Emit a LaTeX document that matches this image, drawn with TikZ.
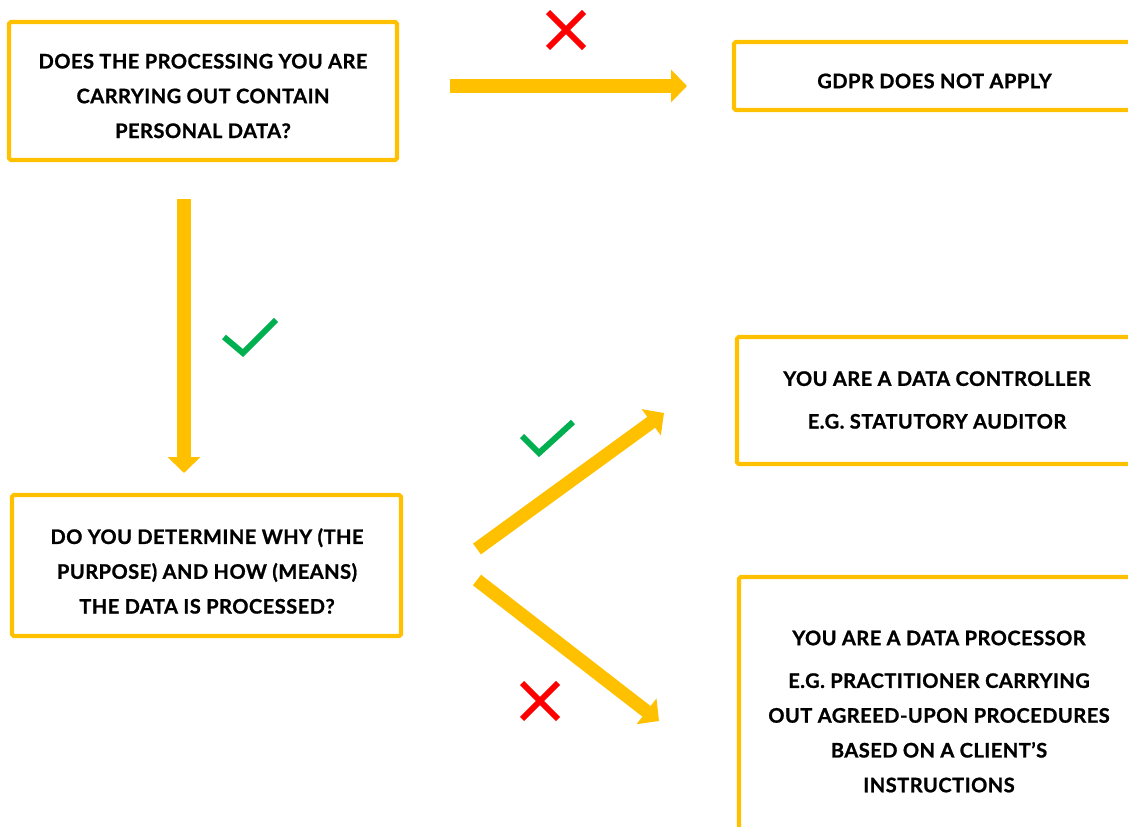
\documentclass[tikz,border=0pt]{standalone}
\usepackage{fontspec}
\setmainfont{Lato}[BoldFeatures={FakeBold=1,LetterSpace=2.5}]
\usetikzlibrary{arrows.meta}
\definecolor{gold}{HTML}{FFC000}
\definecolor{xred}{HTML}{FF0000}
\definecolor{okgreen}{HTML}{00B050}
\tikzset{
  box/.style={draw=gold, line width=2.3pt, rounded corners=1pt, fill=white, inner sep=0pt},
  label/.style={align=center, font=\fontsize{11.4}{19.8}\selectfont\bfseries, inner sep=0pt},
  flow/.style={draw=gold, line width=7.6pt, -{Triangle[length=9pt,width=18pt]}},
  crossmark/.style={draw=xred, line width=3.4pt},
  tickmark/.style={draw=okgreen, line width=3.4pt},
}
\begin{document}
\begin{tikzpicture}[x=0.02cm,y=-0.02cm]
\useasboundingbox (0,0) rectangle (1128,827);
\clip (0,0) rectangle (1128,827);
\fill[white] (0,0) rectangle (1128,827);
% boxes
\node[box, minimum width=388*0.02cm, minimum height=138*0.02cm] (q1) at (203,91) {};
\node[label] (q1t) at (203,96)
  {DOES THE PROCESSING YOU ARE\\CARRYING OUT CONTAIN\\PERSONAL DATA?};
\node[box, minimum width=406*0.02cm, minimum height=68*0.02cm] (gdpr) at (937,76) {};
\node[label] (gdprt) at (934.5,81) {GDPR DOES NOT APPLY};
\node[box, minimum width=403*0.02cm, minimum height=127*0.02cm] (ctrl) at (938.5,400.5) {};
\node[label] (ctrlt) at (937,400)
  {YOU ARE A DATA CONTROLLER\\[4.5pt]E.G. STATUTORY AUDITOR};
\node[box, minimum width=401*0.02cm, minimum height=273*0.02cm] (proc) at (939.5,713.5) {};
\node[label] (proct) at (939,711.5)
  {YOU ARE A DATA PROCESSOR\\[4.5pt]E.G. PRACTITIONER CARRYING\\OUT AGREED-UPON PROCEDURES\\BASED ON A CLIENT’S\\INSTRUCTIONS};
\node[box, minimum width=389*0.02cm, minimum height=141*0.02cm] (q2) at (206.5,565.5) {};
\node[label] (q2t) at (207,571)
  {DO YOU DETERMINE WHY (THE\\PURPOSE) AND HOW (MEANS)\\THE DATA IS PROCESSED?};
% connector ends
\coordinate (a1s) at (450,86);
\coordinate (a1e) at (687,86);
\coordinate (a2s) at (184,199);
\coordinate (a2e) at (184,473);
\coordinate (a3s) at (477,549);
\coordinate (a3e) at (664,413);
\coordinate (a4s) at (477,580);
\coordinate (a4e) at (659,721);
\draw[flow] (a1s) -- (a1e);
\draw[flow] (a2s) -- (a2e);
\draw[flow] (a3s) -- (a3e);
\draw[flow] (a4s) -- (a4e);
% marks
\draw[crossmark] (548,12) -- (584,48) (584,12) -- (548,48);
\draw[crossmark] (522,683) -- (558,719) (558,683) -- (522,719);
\draw[tickmark] (224,337) -- (243,353) -- (276,320);
\draw[tickmark] (522,436) -- (539,453) -- (573,422);
\end{tikzpicture}
\end{document}
